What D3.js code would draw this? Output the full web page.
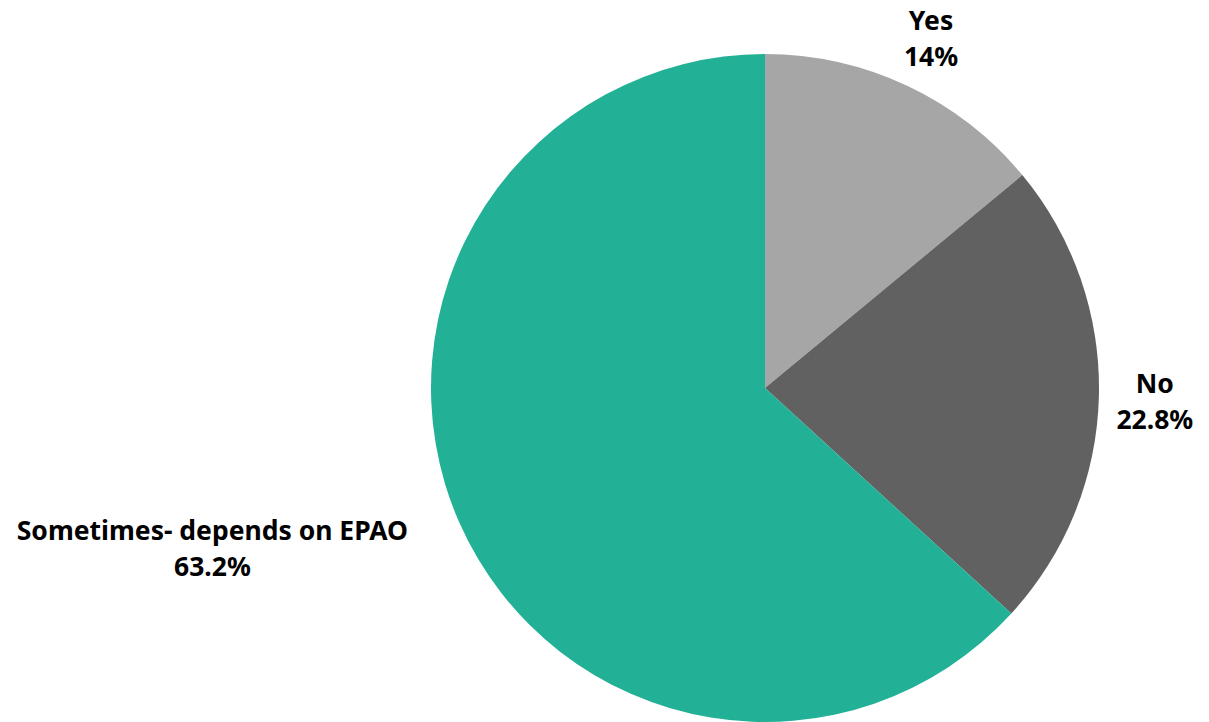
<!DOCTYPE html>
<html>
<head>
<meta charset="utf-8">
<script src="https://cdn.jsdelivr.net/npm/d3@7"></script>
<style>
  html, body { margin: 0; padding: 0; background: #ffffff; }
  svg { display: block; }
  text { font-family: "Noto Sans", "Open Sans", sans-serif; font-weight: 700; fill: #000; }
</style>
</head>
<body>
<svg id="chart" width="1209" height="722"></svg>
<script>
// Answer categories and their shares (percent)
const categories = ["Yes", "No", "Sometimes- depends on EPAO"];
const values = [14, 22.8, 63.2];
const valueLabels = ["14%", "22.8%", "63.2%"];
const colors = ["#a6a6a6", "#616161", "#22b196"];

const width = 1209, height = 722;
const cx = 765, cy = 388, radius = 334, labelRadius = 390;
const fontSize = 26.5, lineGap = 36, labelShift = 4;

const svg = d3.select("#chart");
const g = svg.append("g").attr("transform", `translate(${cx},${cy})`);

const data = categories.map((c, i) => ({ category: c, value: values[i], label: valueLabels[i], color: colors[i] }));

const pie = d3.pie().value(d => d.value).sort(null);
const arc = d3.arc().innerRadius(0).outerRadius(radius);
const arcs = pie(data);

g.selectAll("path.slice")
  .data(arcs)
  .join("path")
  .attr("class", "slice")
  .attr("d", arc)
  .attr("fill", d => d.data.color);

// Labels placed outside the slices at mid-angle
const labels = g.selectAll("g.label")
  .data(arcs)
  .join("g")
  .attr("class", "label");

labels.each(function(d) {
  const sel = d3.select(this);
  const mid = (d.startAngle + d.endAngle) / 2;
  const px = labelRadius * Math.sin(mid);
  const py = -labelRadius * Math.cos(mid) + labelShift;
  const lines = [d.data.category, d.data.label];
  const texts = lines.map((t, i) => sel.append("text")
    .attr("text-anchor", "middle")
    .attr("font-size", fontSize)
    .attr("y", py + (i - 0.5) * lineGap)
    .attr("dy", "0.35em")
    .text(t));
  const w = d3.max(texts, t => t.node().getComputedTextLength());
  // keep the block clear of the pie: align its inner edge on the anchor point if needed
  let x = px;
  const top = py - lineGap / 2 - fontSize / 2, bottom = py + lineGap / 2 + fontSize / 2;
  const nearX = px < 0 ? x + w / 2 : x - w / 2;
  const nearY = Math.min(Math.abs(top), Math.abs(bottom)) * (top * bottom > 0 ? 1 : 0);
  if (Math.hypot(nearX, nearY) < radius) {
    x = px < 0 ? px - w / 2 : px + w / 2;
  }
  texts.forEach(t => t.attr("x", x));
});
</script>
</body>
</html>
